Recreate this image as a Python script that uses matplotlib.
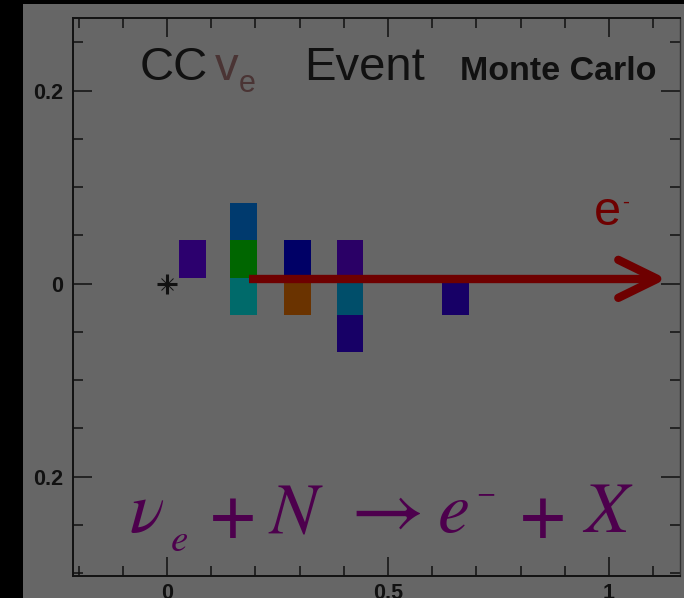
import matplotlib
matplotlib.use("Agg")
import matplotlib.pyplot as plt
from matplotlib.patches import Rectangle
from matplotlib.ticker import FixedLocator, FixedFormatter, MultipleLocator

plt.rcParams["mathtext.fontset"] = "stix"

# ---- event data ---------------------------------------------------------
# hit cells: centre x, centre y, fill colour
cell_x = [0.058, 0.174, 0.174, 0.174, 0.296, 0.296, 0.414, 0.414, 0.414, 0.653]
cell_y = [0.0255, 0.064, 0.0255, -0.013, 0.0255, -0.013, 0.0255, -0.013, -0.0515, -0.013]
cell_colors = ["#2c006e", "#003a6e", "#006600", "#006a6a", "#000066",
               "#6a3300", "#2a0066", "#004e6a", "#170066", "#170066"]

# reconstructed electron track (start -> end)
track_x = [0.186, 1.109]
track_y = [0.005, 0.005]

# interaction vertex
vertex_x = [0.0]
vertex_y = [0.0]

x_ticks = [0, 0.5, 1]
x_tick_labels = ["0", "0.5", "1"]
y_ticks = [-0.2, 0, 0.2]
y_tick_labels = ["0.2", "0", "0.2"]

# ---- figure -------------------------------------------------------------
W, H = 684, 598
BG = "#666666"
CELL_W, CELL_H = 0.061, 0.0385


def px(x, y):
    return x / W, 1 - y / H


fig = plt.figure(figsize=(W / 100, H / 100), dpi=100, facecolor="black")
fig.patches.append(Rectangle((23 / W, 0), 1 - 23 / W, 1 - 4 / H,
                             transform=fig.transFigure, facecolor=BG,
                             edgecolor="none", zorder=-10))

ax = fig.add_axes([73 / W, 22 / H, 607 / W, 558 / H])
ax.set_facecolor(BG)
ax.set_xlim(-0.2127, 1.1606)
ax.set_ylim(-0.3029, 0.2753)

for x, y, c in zip(cell_x, cell_y, cell_colors):
    ax.add_patch(Rectangle((x - CELL_W / 2, y - CELL_H / 2), CELL_W, CELL_H,
                           facecolor=c, edgecolor="none", zorder=2))

# track arrow: shaft plus open chevron head
track_color = "#6e0000"
ax.plot(track_x, track_y, color=track_color, lw=6, solid_capstyle="butt", zorder=3)
hl, hw = 0.088, 0.0197
ax.plot([track_x[1] - hl, track_x[1], track_x[1] - hl],
        [track_y[1] + hw, track_y[1], track_y[1] - hw],
        color=track_color, lw=6, solid_capstyle="round",
        solid_joinstyle="round", zorder=3)

# vertex marker (asterisk)
ax.plot(vertex_x, vertex_y, marker="+", ms=14, mew=2.2, color="#111111",
        ls="none", zorder=4)
ax.plot(vertex_x, vertex_y, marker="x", ms=9, mew=0.7, color="#111111",
        ls="none", zorder=4)

# axes styling
for side in ["left", "bottom", "top"]:
    ax.spines[side].set_color("#111111")
    ax.spines[side].set_linewidth(1.4)
ax.spines["right"].set_color("#333333")
ax.spines["right"].set_linewidth(1.0)

ax.xaxis.set_major_locator(FixedLocator(x_ticks))
ax.xaxis.set_major_formatter(FixedFormatter(x_tick_labels))
ax.xaxis.set_minor_locator(MultipleLocator(0.1))
ax.yaxis.set_major_locator(FixedLocator(y_ticks))
ax.yaxis.set_major_formatter(FixedFormatter(y_tick_labels))
ax.yaxis.set_minor_locator(MultipleLocator(0.05))
ax.tick_params(which="both", direction="in", top=True, right=True,
               color="#111111", width=1.1)
ax.tick_params(which="major", length=13.5)
ax.tick_params(which="minor", length=7)
ax.tick_params(axis="x", which="major", pad=5)
ax.tick_params(axis="y", which="major", pad=7)
for lab in ax.get_xticklabels() + ax.get_yticklabels():
    lab.set_fontfamily("Liberation Sans")
    lab.set_fontweight("bold")
    lab.set_fontsize(15.5)
    lab.set_color("#111111")

# header
SANS = "Liberation Sans"
fig.text(*px(140, 80), "CC", fontsize=34, family=SANS, color="#111111", va="baseline")
fig.text(*px(215, 80), "v", fontsize=34, family=SANS, color="#4a3434", va="baseline")
fig.text(*px(239, 92), "e", fontsize=22, family=SANS, color="#4a3434", va="baseline")
fig.text(*px(304, 80), "Event", fontsize=34, family=SANS, color="#111111", va="baseline")
fig.text(*px(460, 80), "Monte Carlo", fontsize=24.5, family=SANS, weight="bold",
         color="#111111", va="baseline")

# track label  e-
fig.text(*px(594, 225), "e", fontsize=35, family=SANS, color=track_color,
         va="baseline")
fig.text(*px(622, 208), "-", fontsize=15, family=SANS, color=track_color,
         va="baseline")

# reaction  nu_e + N -> e- + X
RC = "#4d004d"
fig.text(*px(129, 532), r"$\nu$", fontsize=52, color=RC, va="baseline")
fig.text(*px(170, 551), r"$e$", fontsize=28, color=RC, va="baseline")
fig.text(*px(230.5, 515.5), r"$\mathbf{+}$", fontsize=46, color=RC,
         ha="center", va="center")
fig.text(*px(268, 532), r"$N$", fontsize=52, color=RC, va="baseline")
fig.text(*px(380.5, 511), r"$\rightarrow$", fontsize=58, color=RC,
         ha="center", va="center")
fig.text(*px(437, 532), r"$e$", fontsize=52, color=RC, va="baseline")
fig.text(*px(486, 492), r"$-$", fontsize=20, color=RC, ha="center", va="center")
fig.text(*px(540.5, 515.5), r"$\mathbf{+}$", fontsize=46, color=RC,
         ha="center", va="center")
fig.text(*px(582, 532), r"$X$", fontsize=52, color=RC, va="baseline")

fig.savefig("out.png", dpi=100, facecolor=fig.get_facecolor())
